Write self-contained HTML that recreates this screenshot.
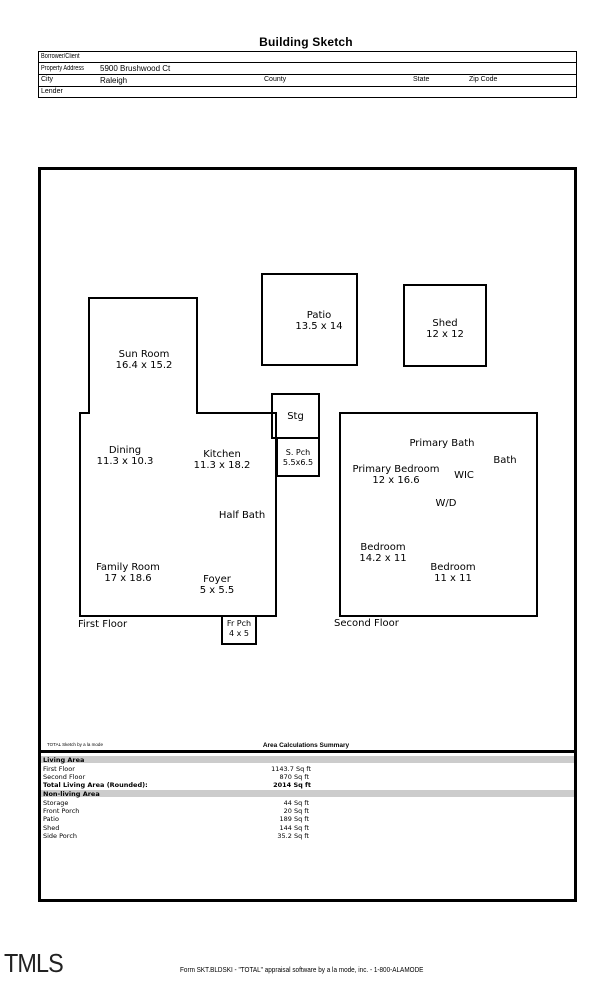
<!DOCTYPE html>
<html><head><meta charset="utf-8"><style>
body{margin:0;background:#fff;width:612px;height:1008px;position:relative;overflow:hidden;font-family:"Liberation Sans",sans-serif;}
.a{position:absolute;white-space:nowrap;}
.n{font-family:"DejaVu Sans","Liberation Sans",sans-serif;font-size:10px;text-align:center;line-height:11px;}
.t{font-family:"Liberation Sans Narrow","Liberation Sans",sans-serif;font-size:7px;}
.s{font-size:6.5px;font-family:"DejaVu Sans",sans-serif;}
</style></head><body>
<div class="a" style="left:0;width:612px;top:35px;text-align:center;font-weight:bold;font-size:12px;letter-spacing:.2px">Building Sketch</div>
<div class="a" style="left:38px;top:51px;width:537px;height:45px;border:1px solid #000"></div>
<div class="a" style="left:38px;top:62px;width:539px;border-top:1px solid #000"></div>
<div class="a" style="left:38px;top:74px;width:539px;border-top:1px solid #000"></div>
<div class="a" style="left:38px;top:86px;width:539px;border-top:1px solid #000"></div>
<div class="a t" style="left:41px;top:53px;transform:scaleX(.8);transform-origin:left">Borrower/Client</div>
<div class="a t" style="left:41px;top:65px;transform:scaleX(.8);transform-origin:left">Property Address</div>
<div class="a" style="left:100px;top:64px;font-size:8px">5900 Brushwood Ct</div>
<div class="a t" style="left:41px;top:76px">City</div>
<div class="a" style="left:100px;top:76px;font-size:8px">Raleigh</div>
<div class="a t" style="left:264px;top:76px">County</div>
<div class="a t" style="left:413px;top:76px">State</div>
<div class="a t" style="left:469px;top:76px">Zip Code</div>
<div class="a t" style="left:41px;top:88px">Lender</div>

<div class="a" style="left:38px;top:167px;width:533px;height:729px;border:3px solid #000"></div>
<div class="a" style="left:38px;top:750px;width:539px;border-top:3px solid #000"></div>
<div class="a" style="left:41px;top:756px;width:533px;height:7px;background:#ccc"></div>
<div class="a" style="left:41px;top:790px;width:533px;height:7px;background:#ccc"></div>

<svg class="a" style="left:0;top:0" width="612" height="1008">
<g fill="none" stroke="#000" stroke-width="2">
<polygon points="89,298 197,298 197,413 276,413 276,616 80,616 80,413 89,413"/>
<rect x="272" y="394" width="47" height="44"/>
<rect x="277" y="438" width="42" height="38"/>
<rect x="222" y="616" width="34" height="28"/>
<rect x="262" y="274" width="95" height="91"/>
<rect x="404" y="285" width="82" height="81"/>
<rect x="340" y="413" width="197" height="203"/>
</g></svg>

<div class="a n" style="left:284px;top:310px;width:70px">Patio<br>13.5 x 14</div>
<div class="a n" style="left:405px;top:318px;width:80px">Shed<br>12 x 12</div>
<div class="a n" style="left:100px;top:349px;width:88px">Sun Room<br>16.4 x 15.2</div>
<div class="a n" style="left:272px;top:411px;width:47px">Stg</div>
<div class="a n" style="left:277px;top:448px;width:42px;font-size:8px;line-height:10px">S. Pch<br>5.5x6.5</div>
<div class="a n" style="left:85px;top:445px;width:80px">Dining<br>11.3 x 10.3</div>
<div class="a n" style="left:182px;top:449px;width:80px">Kitchen<br>11.3 x 18.2</div>
<div class="a n" style="left:212px;top:510px;width:60px">Half Bath</div>
<div class="a n" style="left:84px;top:562px;width:88px">Family Room<br>17 x 18.6</div>
<div class="a n" style="left:187px;top:574px;width:60px">Foyer<br>5 x 5.5</div>
<div class="a n" style="left:222px;top:619px;width:34px;font-size:8px;line-height:10px">Fr Pch<br>4 x 5</div>
<div class="a n" style="left:78px;top:619px;text-align:left">First Floor</div>
<div class="a n" style="left:334px;top:618px;text-align:left">Second Floor</div>
<div class="a n" style="left:400px;top:438px;width:84px">Primary Bath</div>
<div class="a n" style="left:490px;top:455px;width:30px">Bath</div>
<div class="a n" style="left:350px;top:464px;width:92px">Primary Bedroom<br>12 x 16.6</div>
<div class="a n" style="left:450px;top:470px;width:28px">WIC</div>
<div class="a n" style="left:430px;top:498px;width:32px">W/D</div>
<div class="a n" style="left:350px;top:542px;width:66px">Bedroom<br>14.2 x 11</div>
<div class="a n" style="left:420px;top:562px;width:66px">Bedroom<br>11 x 11</div>

<div class="a" style="left:47px;top:742px;font-size:4.5px">TOTAL Sketch by a la mode</div>
<div class="a" style="left:0;width:612px;top:742px;text-align:center;font-size:6.5px;font-weight:bold">Area Calculations Summary</div>
<div class="a s" style="left:43px;top:756px;font-weight:bold">Living Area</div>
<div class="a s" style="left:43px;top:765px">First Floor</div>
<div class="a s" style="left:43px;top:773px">Second Floor</div>
<div class="a s" style="left:43px;top:781px;font-weight:bold">Total Living Area (Rounded):</div>
<div class="a s" style="left:43px;top:790px;font-weight:bold">Non-living Area</div>
<div class="a s" style="left:43px;top:799px">Storage</div>
<div class="a s" style="left:43px;top:807px">Front Porch</div>
<div class="a s" style="left:43px;top:815px">Patio</div>
<div class="a s" style="left:43px;top:824px">Shed</div>
<div class="a s" style="left:43px;top:832px">Side Porch</div>
<div class="a s" style="left:200px;width:111px;text-align:right;top:765px">1143.7 Sq ft</div>
<div class="a s" style="left:200px;width:109px;text-align:right;top:773px">870 Sq ft</div>
<div class="a s" style="left:200px;width:111px;text-align:right;top:781px;font-weight:bold">2014 Sq ft</div>
<div class="a s" style="left:200px;width:109px;text-align:right;top:799px">44 Sq ft</div>
<div class="a s" style="left:200px;width:109px;text-align:right;top:807px">20 Sq ft</div>
<div class="a s" style="left:200px;width:109px;text-align:right;top:815px">189 Sq ft</div>
<div class="a s" style="left:200px;width:109px;text-align:right;top:824px">144 Sq ft</div>
<div class="a s" style="left:200px;width:109px;text-align:right;top:832px">35.2 Sq ft</div>

<div class="a" style="left:4px;top:948px;font-size:26px;font-weight:100;color:#222;letter-spacing:-1px;transform:scaleX(.9);transform-origin:left">TMLS</div>
<div class="a" style="left:180px;top:965px;font-size:7.5px;transform:scaleX(.85);transform-origin:left">Form SKT.BLDSKI - "TOTAL" appraisal software by a la mode, inc. - 1-800-ALAMODE</div>
</body></html>
